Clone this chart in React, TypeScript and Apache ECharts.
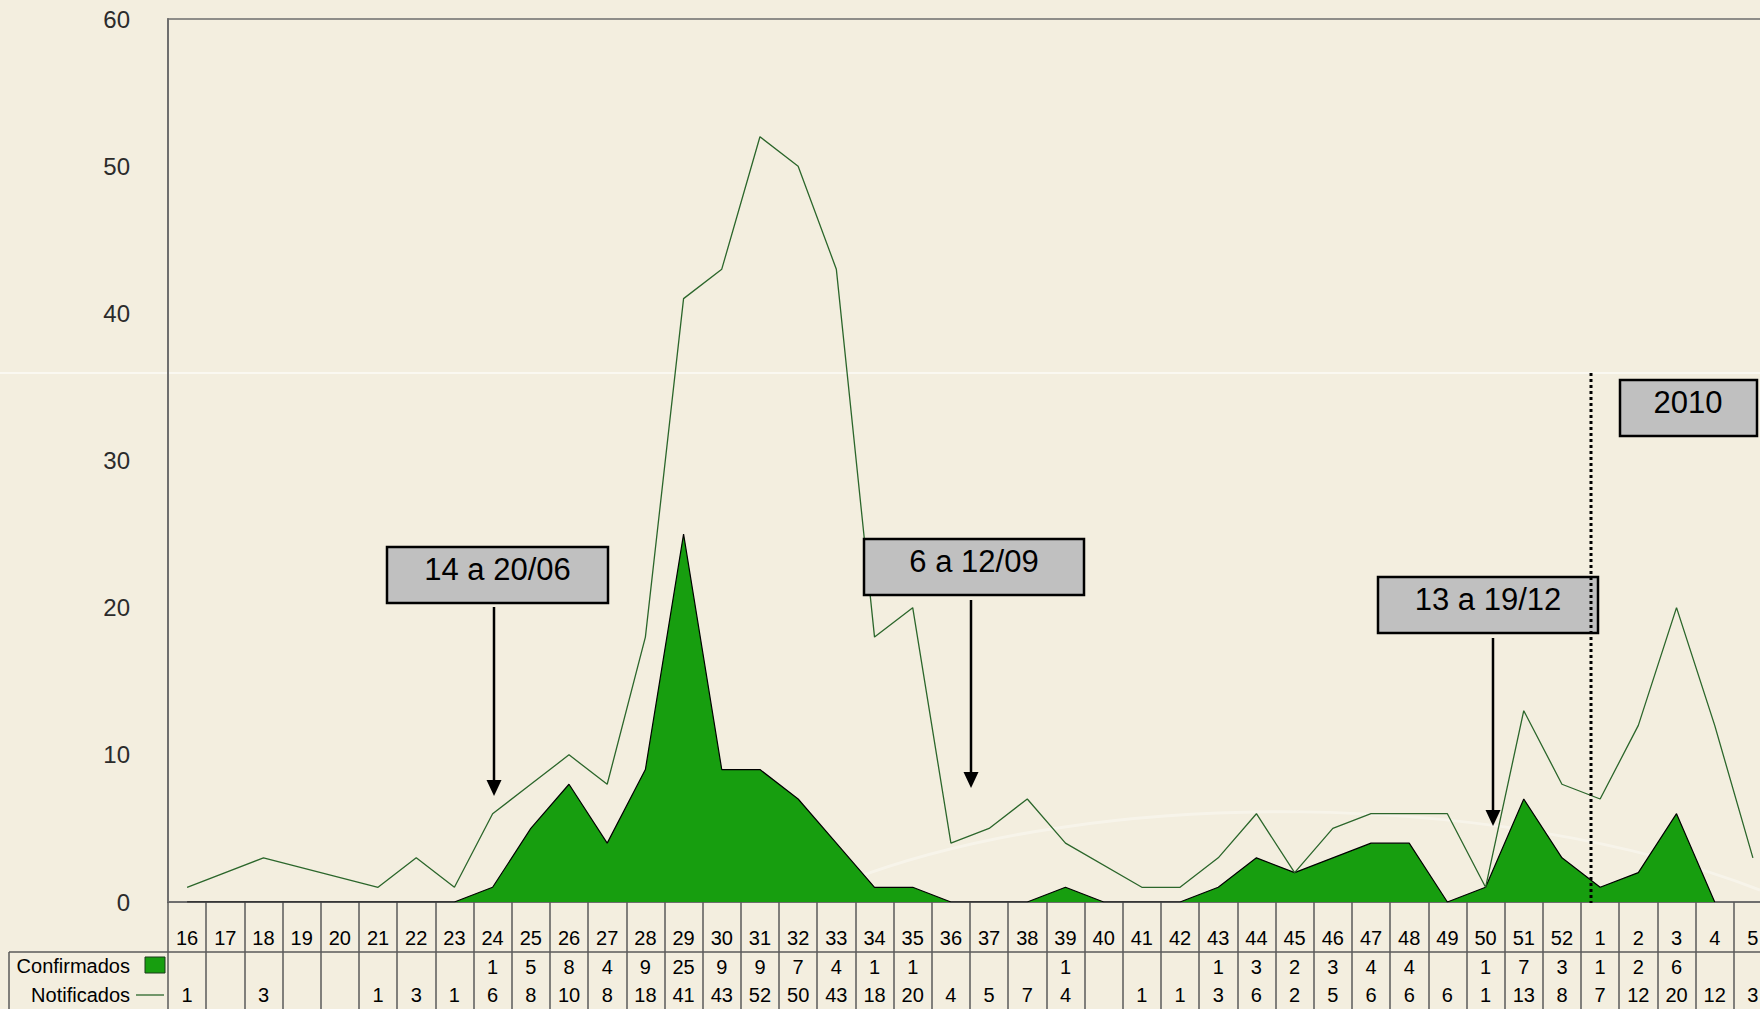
import React, { useEffect, useRef } from "react";
import * as echarts from "echarts";

const weeks = [
  "16", "17", "18", "19", "20", "21", "22", "23", "24", "25", "26", "27", "28", "29", "30", "31", "32", "33", "34", "35",
  "36", "37", "38", "39", "40", "41", "42", "43", "44", "45", "46", "47", "48", "49", "50", "51", "52",
  "1", "2", "3", "4", "5",
];

const confirmados: (number | null)[] = [
  0, 0, 0, 0, 0, 0, 0, 0, 1, 5, 8, 4, 9, 25, 9, 9, 7, 4, 1, 1,
  0, 0, 0, 1, 0, 0, 0, 1, 3, 2, 3, 4, 4, 0, 1, 7, 3,
  1, 2, 6, 0, null,
];

const notificados: (number | null)[] = [
  1, null, 3, null, null, 1, 3, 1, 6, 8, 10, 8, 18, 41, 43, 52, 50, 43, 18, 20,
  4, 5, 7, 4, null, 1, 1, 3, 6, 2, 5, 6, 6, 6, 1, 13, 8,
  7, 12, 20, 12, 3,
];

const yTicks = [0, 10, 20, 30, 40, 50, 60];

const annotations = [
  { text: "14 a 20/06", x: 387, y: 547, w: 221, h: 56, ax: 494, ay1: 607, tip: 796 },
  { text: "6 a 12/09", x: 864, y: 539, w: 220, h: 56, ax: 971, ay1: 600, tip: 788 },
  { text: "13 a 19/12", x: 1378, y: 577, w: 220, h: 56, ax: 1493, ay1: 638, tip: 826 },
];

const FONT = "'Liberation Sans', Arial, sans-serif";
const BG = "#F3EEDF";
const GREEN = "#179E0F";
const LINE_GREEN = "#2B662B";

const cellText = (v: number | null) => (v === null || v === 0 ? " " : String(v));

export default function App() {
  const ref = useRef<HTMLDivElement>(null);

  useEffect(() => {
    if (!ref.current) return;
    const chart = echarts.init(ref.current, null, { renderer: "svg" });

    const graphics: any[] = [];

    // faint background streaks
    graphics.push({
      type: "line",
      silent: true,
      z: -10,
      shape: { x1: 0, y1: 373, x2: 1760, y2: 373 },
      style: { stroke: "rgba(255,255,255,0.75)", lineWidth: 1.5 },
    });
    graphics.push({
      type: "bezierCurve",
      silent: true,
      z: -10,
      shape: { x1: 850, y1: 880, cpx1: 1100, cpy1: 785, cpx2: 1500, cpy2: 790, x2: 1760, y2: 890 },
      style: { stroke: "rgba(255,255,255,0.35)", lineWidth: 3, fill: null },
    });

    // table structure
    graphics.push({
      type: "line",
      z: 5,
      shape: { x1: 9, y1: 952, x2: 1772, y2: 952 },
      style: { stroke: "#5a5a5a", lineWidth: 1.5 },
    });
    graphics.push({
      type: "line",
      z: 5,
      shape: { x1: 9, y1: 952, x2: 9, y2: 1009 },
      style: { stroke: "#5a5a5a", lineWidth: 1.5 },
    });

    // row labels with keys
    graphics.push({
      type: "text",
      z: 5,
      style: {
        text: "Confirmados",
        x: 130,
        y: 966,
        align: "right",
        verticalAlign: "middle",
        font: `20px ${FONT}`,
        fill: "#000",
      },
    });
    graphics.push({
      type: "rect",
      z: 5,
      shape: { x: 145, y: 957, width: 20, height: 16 },
      style: { fill: GREEN, stroke: "#1a3a1a", lineWidth: 1 },
    });
    graphics.push({
      type: "text",
      z: 5,
      style: {
        text: "Notificados",
        x: 130,
        y: 995,
        align: "right",
        verticalAlign: "middle",
        font: `20px ${FONT}`,
        fill: "#000",
      },
    });
    graphics.push({
      type: "line",
      z: 5,
      shape: { x1: 136, y1: 995, x2: 164, y2: 995 },
      style: { stroke: LINE_GREEN, lineWidth: 1.3 },
    });

    // annotation boxes & arrows
    annotations.forEach((a) => {
      graphics.push({
        type: "rect",
        z: 20,
        shape: { x: a.x, y: a.y, width: a.w, height: a.h },
        style: { fill: "#C0C0C0", stroke: "#000", lineWidth: 2.5 },
      });
      graphics.push({
        type: "text",
        z: 21,
        style: {
          text: a.text,
          x: a.x + a.w / 2,
          y: a.y + a.h / 2 - 6,
          align: "center",
          verticalAlign: "middle",
          font: `31px ${FONT}`,
          fill: "#000",
        },
      });
      graphics.push({
        type: "line",
        z: 20,
        shape: { x1: a.ax, y1: a.ay1, x2: a.ax, y2: a.tip - 12 },
        style: { stroke: "#000", lineWidth: 2.5 },
      });
      graphics.push({
        type: "polygon",
        z: 20,
        shape: {
          points: [
            [a.ax - 7.5, a.tip - 16],
            [a.ax + 7.5, a.tip - 16],
            [a.ax, a.tip],
          ],
        },
        style: { fill: "#000" },
      });
    });

    // 2010 separator
    graphics.push({
      type: "line",
      z: 22,
      shape: { x1: 1591, y1: 373, x2: 1591, y2: 903 },
      style: { stroke: "#000", lineWidth: 3, lineDash: [3, 3] },
    });
    graphics.push({
      type: "rect",
      z: 20,
      shape: { x: 1620, y: 380, width: 137, height: 56 },
      style: { fill: "#C0C0C0", stroke: "#000", lineWidth: 2.5 },
    });
    graphics.push({
      type: "text",
      z: 21,
      style: {
        text: "2010",
        x: 1688,
        y: 402,
        align: "center",
        verticalAlign: "middle",
        font: `31px ${FONT}`,
        fill: "#000",
      },
    });

    const option: any = {
      animation: false,
      backgroundColor: BG,
      textStyle: { fontFamily: FONT },
      grid: {
        left: 168,
        top: 19,
        width: 1604,
        height: 883,
        outerBoundsMode: "none",
        containLabel: false,
        show: true,
        borderColor: "#6e6e6e",
        borderWidth: 1.5,
        backgroundColor: "transparent",
      },
      xAxis: {
        type: "category",
        data: weeks,
        boundaryGap: true,
        axisLine: { show: true, lineStyle: { color: "#6e6e6e", width: 2 } },
        axisTick: {
          show: true,
          interval: 0,
          length: 107,
          lineStyle: { color: "#5a5a5a", width: 1.5 },
        },
        axisLabel: {
          interval: 0,
          margin: 22,
          hideOverlap: false,
          formatter: (value: string, idx: number) =>
            `{c|${value}}\n{v|${cellText(confirmados[idx])}}\n{v|${cellText(notificados[idx])}}`,
          rich: {
            c: { fontSize: 20, lineHeight: 28.5, color: "#000", fontFamily: FONT },
            v: { fontSize: 20, lineHeight: 28.5, color: "#000", fontFamily: FONT },
          },
        },
        splitLine: { show: false },
      },
      yAxis: {
        type: "value",
        min: 0,
        max: 60,
        interval: 10,
        axisLine: { show: true, lineStyle: { color: "#6e6e6e", width: 2 } },
        axisTick: { show: false },
        splitLine: { show: false },
        axisLabel: {
          margin: 38,
          fontSize: 24,
          color: "#2b2b2b",
          fontFamily: FONT,
          formatter: (v: number) => (yTicks.includes(v) ? String(v) : ""),
        },
      },
      series: [
        {
          name: "Confirmados",
          type: "line",
          data: confirmados,
          showSymbol: false,
          symbol: "none",
          lineStyle: { color: "#000", width: 1.2 },
          areaStyle: { color: GREEN, opacity: 1 },
          z: 2,
        },
        {
          name: "Notificados",
          type: "line",
          data: notificados,
          connectNulls: true,
          showSymbol: false,
          symbol: "none",
          lineStyle: { color: LINE_GREEN, width: 1.3 },
          z: 3,
        },
      ],
      graphic: { elements: graphics },
    };

    chart.setOption(option);
    return () => chart.dispose();
  }, []);

  return (
    <div
      ref={ref}
      style={{ position: "fixed", left: 0, top: 0, width: 1760, height: 1009, background: BG }}
    />
  );
}
